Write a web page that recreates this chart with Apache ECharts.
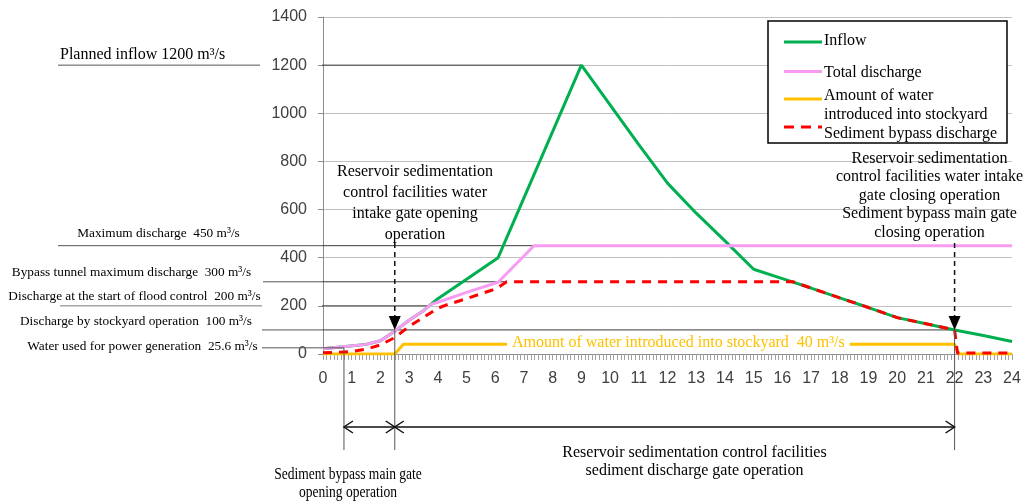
<!DOCTYPE html>
<html><head><meta charset="utf-8">
<script src="https://cdn.jsdelivr.net/npm/echarts@6.0.0/dist/echarts.min.js"></script>
<style>html,body{margin:0;padding:0;background:#fff}#c{width:1024px;height:502px}</style>
</head><body><div id="c"></div>
<script>
// ---- data ----
const hourTicks = [0,1,2,3,4,5,6,7,8,9,10,11,12,13,14,15,16,17,18,19,20,21,22,23,24];
const yTicks = [0,200,400,600,800,1000,1200,1400];

const inflowT = [0, 0.7, 1.5, 2, 2.5, 3, 3.5, 3.75, 4, 5, 6.1, 9, 10, 11, 12, 13, 14, 15, 16, 17, 18, 19, 20, 21, 22, 23, 24];
const inflowV = [22, 30, 40, 55, 95, 140, 180, 205, 230, 311, 400, 1200, 1035, 870, 710, 585, 470, 352, 313, 274, 233, 193, 151, 126, 100, 77, 52];

const totalT = [0, 0.7, 1.5, 2, 2.5, 3, 3.5, 3.75, 4, 5, 6.1, 7.35, 24];
const totalV = [22, 30, 40, 55, 95, 140, 180, 205, 215, 256, 298, 450, 450];

const stockT = [0, 2.5, 2.8, 22, 22.15, 24];
const stockV = [0, 0, 40, 40, 0, 0];

const bypassT = [0, 1, 1.5, 2, 2.5, 3, 3.5, 4, 4.3, 5, 5.9, 6.15, 6.4, 16.37, 17, 18, 19, 20, 21, 22, 22.1, 24];
const bypassV = [5, 10, 20, 38, 68, 115, 152, 190, 204, 230, 266, 280, 300, 300, 274, 233, 193, 151, 126, 100, 4, 4];

const seriesNames = ['Inflow', 'Total discharge', 'Amount of water introduced into stockyard', 'Sediment bypass discharge'];
const levelPlanned = 1200, levelMax = 450, levelBypass = 300, levelFlood = 200, levelStock = 100, levelPower = 25.6, levelStockIn = 40;
const tOpenBypass = 0.73, tOpenIntake = 2.5, tClose = 22;

const pairs = (T, V) => T.map((t, i) => [t, V[i]]);
const SERIF = '"Liberation Serif","Times New Roman",serif';
const SANS = '"Liberation Sans",Arial,sans-serif';

const chart = echarts.init(document.getElementById('c'), null, {renderer: 'canvas'});
chart.setOption({
  animation: false,
  backgroundColor: '#fff',
  grid: {left: 323, right: 12, top: 17, bottom: 148, containLabel: false, outerBoundsMode: 'none'},
  xAxis: {
    type: 'value', min: hourTicks[0], max: hourTicks[hourTicks.length - 1], interval: 1,
    axisLine: {show: true, lineStyle: {color: '#8c8c8c', width: 1}},
    axisTick: {show: true, length: 6, lineStyle: {color: '#a0a0a0'}},
    minorTick: {show: true, splitNumber: 8, length: 6, lineStyle: {color: '#a0a0a0'}},
    splitLine: {show: false},
    axisLabel: {fontFamily: SANS, fontSize: 16, color: '#404040', margin: 17,
      formatter: v => hourTicks.includes(v) ? String(v) : ''}
  },
  yAxis: {
    type: 'value', min: yTicks[0], max: yTicks[yTicks.length - 1], interval: 200,
    axisLine: {show: true, lineStyle: {color: '#8c8c8c', width: 1}},
    axisTick: {show: true, length: 5, lineStyle: {color: '#8c8c8c'}},
    splitLine: {show: true, lineStyle: {color: '#c0c0c0', width: 1}},
    axisLabel: {fontFamily: SANS, fontSize: 16, color: '#404040', margin: 16,
      formatter: v => String(v)}
  },
  series: [
    {name: seriesNames[0], type: 'line', symbol: 'none', data: pairs(inflowT, inflowV),
      lineStyle: {color: '#00B050', width: 3}, itemStyle: {color: '#00B050'}},
    {name: seriesNames[1], type: 'line', symbol: 'none', data: pairs(totalT, totalV),
      lineStyle: {color: '#F79CF2', width: 3}, itemStyle: {color: '#F79CF2'}},
    {name: seriesNames[2], type: 'line', symbol: 'none', data: pairs(stockT, stockV),
      lineStyle: {color: '#FFC000', width: 3}, itemStyle: {color: '#FFC000'}},
    {name: seriesNames[3], type: 'line', symbol: 'none', data: pairs(bypassT, bypassV),
      lineStyle: {color: '#FF0000', width: 3, type: [9, 7]}, itemStyle: {color: '#FF0000'}}
  ]
});

// ---- annotations, positioned through the chart's own scales ----
const P = (t, v) => chart.convertToPixel({gridIndex: 0}, [t, v]);
const X = t => P(t, 0)[0];
const Y = v => P(0, v)[1];
const axL = X(0) - 1;
const G = [];
function line(x1, y1, x2, y2, stroke, lw, dash, z) {
  G.push({type: 'line', silent: true, z: z == null ? 50 : z, shape: {x1, y1, x2, y2},
    style: {stroke, lineWidth: lw, lineDash: dash || null}});
}
function poly(points, fill, stroke, lw) {
  G.push({type: fill ? 'polygon' : 'polyline', silent: true, z: 55, shape: {points},
    style: fill ? {fill} : {stroke, lineWidth: lw, fill: null}});
}
function text(x, y, str, o) {
  o = o || {};
  const st = {text: str, fill: o.color || '#000', fontSize: o.size || 16, fontFamily: o.family || SERIF,
    align: o.align || 'left', textAlign: o.align || 'left', verticalAlign: 'middle', textVerticalAlign: 'middle',
    lineHeight: o.lh || Math.round((o.size || 16) * 1.15)};
  if (o.bg) { st.backgroundColor = o.bg; st.padding = o.pad || [0, 4]; }
  const el = {type: 'text', silent: true, z: 60, x, y, style: st};
  if (o.sx) el.scaleX = o.sx;
  G.push(el);
}
const DARK = '#3a3a3a';

// Planned inflow 1200
text(60, Y(levelPlanned) - 10, 'Planned inflow 1200 m³/s', {size: 16});
line(58, Y(levelPlanned), 260, Y(levelPlanned), '#555', 1);
line(axL, Y(levelPlanned), X(9), Y(levelPlanned), DARK, 1, null, 1);
// Maximum discharge 450
text(158.5, Y(levelMax) - 12, 'Maximum discharge  450 m³/s', {size: 13.3, align: 'center'});
line(58, Y(levelMax), axL, Y(levelMax), '#555', 1);
line(axL, Y(levelMax), X(7.35), Y(levelMax), DARK, 1, null, 1);
// Bypass tunnel 300
text(131.5, Y(levelBypass) - 9, 'Bypass tunnel maximum discharge  300 m³/s', {size: 13.3, align: 'center'});
line(263, Y(levelBypass), axL, Y(levelBypass), '#555', 1);
line(axL, Y(levelBypass), X(6.4), Y(levelBypass), DARK, 1, null, 1);
// Flood control 200
text(134.5, Y(levelFlood) - 9, 'Discharge at the start of flood control  200 m³/s', {size: 13.3, align: 'center'});
line(60, Y(levelFlood), 262, Y(levelFlood), '#777', 1);
line(axL, Y(levelFlood), X(3.75), Y(levelFlood), DARK, 1, null, 1);
// Stockyard 100
text(136, Y(levelStock) - 8, 'Discharge by stockyard operation  100 m³/s', {size: 13.3, align: 'center'});
line(262, Y(levelStock), axL, Y(levelStock), '#555', 1);
line(axL, Y(levelStock), X(tClose), Y(levelStock), DARK, 1, null, 1);
// Power generation 25.6
text(142.5, Y(levelPower) - 1, 'Water used for power generation  25.6 m³/s', {size: 13.3, align: 'center'});
line(262, Y(levelPower), X(tOpenBypass), Y(levelPower), '#555', 1);

// vertical operation lines down to the brackets
line(X(tOpenBypass), Y(levelPower), X(tOpenBypass), 450, '#555', 1);
line(X(tOpenIntake), Y(levelStock), X(tOpenIntake), 450, '#555', 1);
line(X(tClose), Y(levelStock), X(tClose), 450, '#555', 1);

// dashed arrows
function dashArrow(x, yTop, yTip) {
  line(x, yTop, x, yTip - 13, '#111', 1.5, [5, 4]);
  poly([[x - 6, yTip - 14], [x + 6, yTip - 14], [x, yTip]], '#000');
}
dashArrow(X(tOpenIntake), 243, Y(levelStock));
dashArrow(X(tClose), 243, Y(levelStock));

// top annotation texts
text(415, 203.5, 'Reservoir sedimentation\ncontrol facilities water\nintake gate opening\noperation', {size: 16, align: 'center', lh: 21});
text(929.5, 195.5, 'Reservoir sedimentation\ncontrol facilities water intake\ngate closing operation\nSediment bypass main gate\nclosing operation', {size: 16, align: 'center', lh: 18.6});

// double arrows at bottom
function dblArrow(xa, xb, y) {
  line(xa, y, xb, y, '#111', 1.5);
  poly([[xa + 9, y - 6], [xa, y], [xa + 9, y + 6]], null, '#111', 1.5);
  poly([[xb - 9, y - 6], [xb, y], [xb - 9, y + 6]], null, '#111', 1.5);
}
dblArrow(X(tOpenBypass), X(tOpenIntake), 427);
dblArrow(X(tOpenIntake), X(tClose), 427);

text(348, 484, 'Sediment bypass main gate\nopening operation', {size: 16.5, align: 'center', lh: 18, sx: 0.82});
text(694.5, 462, 'Reservoir sedimentation control facilities\nsediment discharge gate operation', {size: 16, align: 'center', lh: 18});

// label on the stockyard line
text(X(12.38), Y(levelStockIn) - 1.5, 'Amount of water introduced into stockyard  40 m³/s',
  {size: 16, align: 'center', color: '#FFC000', bg: '#fff', pad: [0, 5], lh: 15});

// legend box
G.push({type: 'rect', silent: true, z: 50, shape: {x: 768, y: 21, width: 239, height: 122},
  style: {fill: '#fff', stroke: '#000', lineWidth: 1.5}});
line(784, 42, 822, 42, '#00B050', 3, null, 55);
text(824, 41, seriesNames[0]);
line(784, 71.5, 822, 71.5, '#F79CF2', 3, null, 55);
text(824, 72.5, seriesNames[1]);
line(784, 99, 822, 99, '#FFC000', 3, null, 55);
text(824, 96, 'Amount of water');
text(824, 115, 'introduced into stockyard');
line(784, 127, 822, 127, '#FF0000', 3, [10, 7], 55);
text(824, 133.5, seriesNames[3]);

chart.setOption({graphic: {elements: G}});
</script>
</body></html>
